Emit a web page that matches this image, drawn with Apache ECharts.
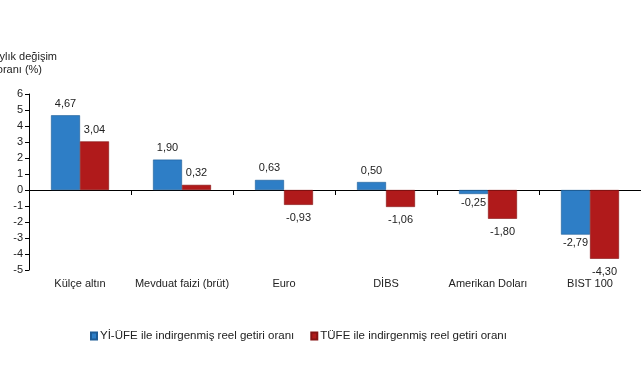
<!DOCTYPE html>
<html><head><meta charset="utf-8">
<script src="https://cdn.jsdelivr.net/npm/echarts@6/dist/echarts.min.js"></script>
<style>html,body{margin:0;padding:0;background:#fff}#c{width:641px;height:380px}</style>
</head><body><div id="c"></div>
<script>
const categories = ['Külçe altın', 'Mevduat faizi (brüt)', 'Euro', 'DİBS', 'Amerikan Doları', 'BIST 100'];
const yiufe = [4.67, 1.90, 0.63, 0.50, -0.25, -2.79];
const tufe = [3.04, 0.32, -0.93, -1.06, -1.80, -4.30];
const seriesNames = ['Yİ-ÜFE ile indirgenmiş reel getiri oranı', 'TÜFE ile indirgenmiş reel getiri oranı'];
const yTicks = {min: -5, max: 6, interval: 1};

const font = 'Liberation Sans, Arial, sans-serif';
const fmt = p => p.value.toFixed(2).replace('.', ',');
function mk(name, data, color, border, negDist) {
  return {
    name, type: 'bar', data: data.map(v => ({
      value: v,
      label: {position: v >= 0 ? 'top' : 'bottom', distance: v >= 0 ? 6 : negDist}
    })),
    xAxisIndex: 0, barWidth: 29, barGap: '0%',
    itemStyle: {color, borderColor: border, borderWidth: 0.6},
    label: {show: true, formatter: fmt, fontFamily: font, fontSize: 11, color: '#222'}
  };
}
const chart = echarts.init(document.getElementById('c'), null, {renderer: 'canvas'});
chart.setOption({
  animation: false,
  backgroundColor: '#fff',
  grid: {left: 29, right: -4, top: 94, bottom: 110, containLabel: false},
  legend: {
    top: 325, left: 85, itemWidth: 6, itemHeight: 7, itemGap: 16,
    icon: 'rect',
    textStyle: {fontFamily: font, fontSize: 11.5, color: '#222', padding: [0, 0, 0, -2]},
    data: seriesNames
  },
  graphic: [
    {type: 'text', right: 584, top: 51, style: {text: 'Aylık değişim', font: '11px ' + font, fill: '#222'}},
    {type: 'text', right: 599, top: 64, style: {text: 'oranı (%)', font: '11px ' + font, fill: '#222'}}
  ],
  xAxis: [
    {type: 'category', data: categories, position: 'bottom',
     axisLine: {onZero: true, lineStyle: {color: '#000', width: 1}},
     axisTick: {show: true, interval: 0, length: 5, lineStyle: {color: '#000'}},
     axisLabel: {show: false}},
    {type: 'category', data: categories, position: 'bottom',
     axisLine: {show: false, onZero: false}, axisTick: {show: false},
     axisLabel: {show: true, fontFamily: font, fontSize: 11, color: '#222', margin: 8, interval: 0}}
  ],
  yAxis: {
    type: 'value', min: yTicks.min, max: yTicks.max, interval: yTicks.interval,
    splitLine: {show: false},
    axisLine: {show: true, lineStyle: {color: '#000'}},
    axisTick: {show: true, length: 4, lineStyle: {color: '#000'}},
    axisLabel: {fontFamily: font, fontSize: 11, color: '#222', margin: 6,
      formatter: v => String(v)}
  },
  series: [
    mk(seriesNames[0], yiufe, '#2e7ec6', '#1d5c96', 3),
    mk(seriesNames[1], tufe, '#b01a1b', '#851213', 8)
  ]
});
</script></body></html>
